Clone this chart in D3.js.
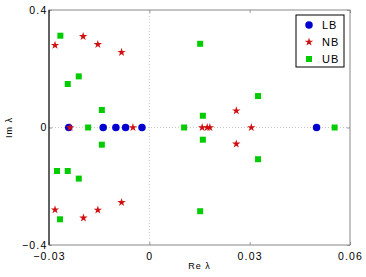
<!DOCTYPE html>
<html>
<head>
<meta charset="utf-8">
<script src="https://cdn.jsdelivr.net/npm/d3@7"></script>
<style>
  html, body { margin: 0; padding: 0; background: #fff; overflow: hidden; }
  svg { display: block; }
  text { font-family: "Liberation Sans", Arial, sans-serif; }
</style>
</head>
<body>
<div id="svg-container"></div>
<script>
// Chart data
const xTicks = [-0.03, 0, 0.03, 0.06];
const yTicks = [-0.4, 0, 0.4];

const lbRe = [-0.0241, -0.0138, -0.0100, -0.0071, -0.0022, 0.0500];
const lbIm = [0, 0, 0, 0, 0, 0];

const nbRe = [-0.0282, -0.0198, -0.0154, -0.0083, -0.0237, -0.0049, 0.0158, 0.0173, 0.0181, 0.0305, 0.0260, 0.0260, -0.0282, -0.0197, -0.0154, -0.0083];
const nbIm = [0.280, 0.310, 0.283, 0.256, 0, 0, 0, 0, 0, 0, 0.057, -0.056, -0.280, -0.308, -0.281, -0.255];

const ubRe = [-0.0266, -0.0244, -0.0211, -0.0142, -0.0183, 0.0104, 0.0554, 0.0152, 0.0160, 0.0325, -0.0142, -0.0276, -0.0244, -0.0211, -0.0267, 0.0160, 0.0325, 0.0152];
const ubIm = [0.3125, 0.148, 0.174, 0.0596, 0, 0, 0, 0.285, 0.040, 0.107, -0.0585, -0.148, -0.148, -0.174, -0.3125, -0.0415, -0.108, -0.285];

const seriesNames = ["LB", "NB", "UB"];

// Set dimensions and margins
const width = 366;
const height = 277;
const margins = { top: 10, right: 16, bottom: 32, left: 49 };
const innerWidth = width - margins.left - margins.right;
const innerHeight = height - margins.top - margins.bottom;

const series = [
  { name: "LB", re: lbRe, im: lbIm, color: "#0000d0", shape: d3.symbolCircle, size: 44 },
  { name: "NB", re: nbRe, im: nbIm, color: "#d01010", shape: d3.symbolStar, size: 22 },
  { name: "UB", re: ubRe, im: ubIm, color: "#00cc00", shape: d3.symbolSquare, size: 36 }
];

const xScale = d3.scaleLinear().domain([-0.03, 0.06]).range([0, innerWidth]);
const yScale = d3.scaleLinear().domain([-0.4, 0.4]).range([innerHeight, 0]);

const svg = d3.select("#svg-container")
  .append("svg")
    .attr("width", width)
    .attr("height", height);

const mainG = svg.append("g")
  .attr("transform", `translate(${margins.left}, ${margins.top})`);

// Dotted zero lines
mainG.append("line")
  .attr("x1", xScale(0)).attr("x2", xScale(0))
  .attr("y1", 0).attr("y2", innerHeight)
  .attr("stroke", "#c8c8c8").attr("stroke-dasharray", "1,2");
mainG.append("line")
  .attr("x1", 0).attr("x2", innerWidth)
  .attr("y1", yScale(0)).attr("y2", yScale(0))
  .attr("stroke", "#c8c8c8").attr("stroke-dasharray", "1,2");

// Axes
const fmt = d3.format("");
mainG.append("g")
  .attr("transform", `translate(0, ${innerHeight})`)
  .call(d3.axisBottom(xScale).tickValues(xTicks).tickFormat(fmt).tickSize(-3).tickPadding(8));
mainG.append("g")
  .call(d3.axisLeft(yScale).tickValues(yTicks).tickFormat(fmt).tickSize(-3).tickPadding(1.5));
mainG.append("g")
  .call(d3.axisTop(xScale).tickValues(xTicks).tickFormat("").tickSize(-3));
mainG.append("g")
  .attr("transform", `translate(${innerWidth}, 0)`)
  .call(d3.axisRight(yScale).tickValues(yTicks).tickFormat("").tickSize(-3));

mainG.selectAll(".domain").remove();
mainG.selectAll(".tick line").attr("stroke", "#999");
mainG.selectAll(".tick text")
  .style("font-size", "10.5px")
  .style("letter-spacing", "1.2px")
  .attr("fill", "#000");

// Frame
mainG.append("rect")
  .attr("width", innerWidth).attr("height", innerHeight)
  .attr("fill", "none").attr("stroke", "#888");
mainG.append("line")
  .attr("x1", 0).attr("x2", 0).attr("y1", 0).attr("y2", innerHeight)
  .attr("stroke", "#000");

// Points
series.forEach(s => {
  const sym = d3.symbol().type(s.shape).size(s.size);
  mainG.append("g")
    .selectAll("path")
    .data(s.re.map((r, i) => ({ re: r, im: s.im[i] })))
    .enter()
    .append("path")
      .attr("d", sym)
      .attr("transform", d => `translate(${xScale(d.re)}, ${yScale(d.im)})`)
      .attr("fill", s.color);
});

// Axis labels
svg.append("text")
  .attr("x", margins.left + innerWidth / 2)
  .attr("y", 269)
  .attr("text-anchor", "middle")
  .style("font-size", "9px")
  .style("letter-spacing", "1px")
  .text("Re λ");
svg.append("text")
  .attr("transform", `translate(12, ${margins.top + innerHeight / 2}) rotate(-90)`)
  .attr("text-anchor", "middle")
  .style("font-size", "9px")
  .style("letter-spacing", "1px")
  .text("Im λ");

// Legend
const legend = svg.append("g").attr("transform", "translate(296, 15)");
legend.append("rect")
  .attr("width", 48).attr("height", 52)
  .attr("fill", "#fff").attr("stroke", "#000");
series.forEach((s, i) => {
  const yy = 10 + i * 17;
  legend.append("path")
    .attr("d", d3.symbol().type(s.shape).size(s.size)())
    .attr("transform", `translate(13, ${yy})`)
    .attr("fill", s.color);
  legend.append("text")
    .attr("x", 26).attr("y", yy + 4)
    .style("font-size", "11px")
    .style("letter-spacing", "1px")
    .text(seriesNames[i]);
});
</script>
</body>
</html>
